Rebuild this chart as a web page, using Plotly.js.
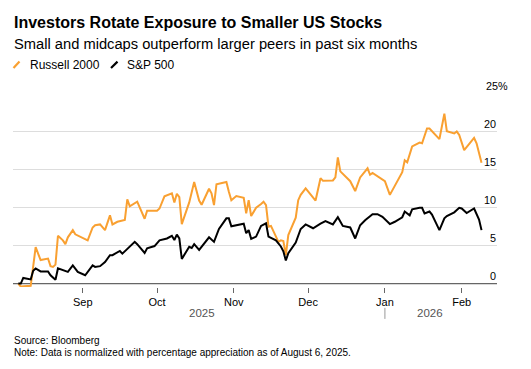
<!DOCTYPE html>
<html>
<head>
<meta charset="utf-8">
<script src="https://cdn.plot.ly/plotly-3.0.1.min.js"></script>
<style>
  html, body { margin: 0; padding: 0; background: #fff; }
  #chart { width: 531px; height: 369px; }
</style>
</head>
<body>
<div id="chart"></div>
<script>
// ---- Data (percent change since Aug 6, 2025) ----
const russellDates = ['2025-08-06','2025-08-07','2025-08-11','2025-08-13','2025-08-15','2025-08-16','2025-08-18','2025-08-19','2025-08-20','2025-08-21','2025-08-22','2025-08-24','2025-08-25','2025-08-26','2025-08-28','2025-08-29','2025-09-03','2025-09-05','2025-09-06','2025-09-08','2025-09-10','2025-09-12','2025-09-13','2025-09-15','2025-09-17','2025-09-18','2025-09-19','2025-09-20','2025-09-23','2025-09-26','2025-09-27','2025-10-01','2025-10-02','2025-10-04','2025-10-07','2025-10-08','2025-10-09','2025-10-10','2025-10-11','2025-10-14','2025-10-16','2025-10-18','2025-10-19','2025-10-22','2025-10-23','2025-10-24','2025-10-25','2025-10-29','2025-10-30','2025-10-31','2025-11-02','2025-11-05','2025-11-06','2025-11-07','2025-11-08','2025-11-10','2025-11-12','2025-11-13','2025-11-14','2025-11-15','2025-11-16','2025-11-19','2025-11-20','2025-11-21','2025-11-22','2025-11-23','2025-11-26','2025-11-27','2025-11-28','2025-11-30','2025-12-04','2025-12-06','2025-12-07','2025-12-11','2025-12-12','2025-12-13','2025-12-14','2025-12-18','2025-12-20','2025-12-22','2025-12-25','2025-12-26','2025-12-27','2025-12-30','2026-01-01','2026-01-03','2026-01-08','2026-01-09','2026-01-10','2026-01-12','2026-01-15','2026-01-16','2026-01-18','2026-01-19','2026-01-23','2026-01-25','2026-01-26','2026-01-29','2026-01-30','2026-01-31','2026-02-02','2026-02-06','2026-02-07','2026-02-09'];
const russellValues = [0,-0.4,-0.3,4.8,3.1,3.2,3.3,2.3,2.2,2.5,6.3,5.7,5.2,6.1,7.05,6.5,5.7,7.4,7.7,7.8,7.05,9.0,7.8,8.15,8.3,8.4,11.1,10.2,10.8,8.55,9.6,9.6,9.9,11.5,11.9,10.7,11.85,11.4,7.85,10.7,13.4,10.95,10.4,12.5,11.9,10.35,13.1,13.4,12.1,11.0,11.55,11.3,9.25,11.0,8.9,10.0,10.5,10.8,10.35,7.5,7.6,5.5,5.7,5.6,3.75,6.4,8.7,11.0,11.7,12.55,10.95,13.9,13.55,13.6,14.0,16.65,14.8,13.5,12.2,14.0,15.2,14.35,14.6,13.9,13.5,11.7,14.7,16.25,16.0,18.1,18.6,18.5,20.45,20.45,19.05,22.4,20.1,19.8,20.05,19.6,17.6,19.2,18.5,15.95];

const spDates = ['2025-08-06','2025-08-07','2025-08-08','2025-08-10','2025-08-11','2025-08-12','2025-08-13','2025-08-15','2025-08-18','2025-08-19','2025-08-21','2025-08-22','2025-08-26','2025-08-28','2025-08-30','2025-09-02','2025-09-05','2025-09-06','2025-09-08','2025-09-10','2025-09-12','2025-09-13','2025-09-16','2025-09-17','2025-09-20','2025-09-22','2025-09-23','2025-09-26','2025-09-27','2025-09-30','2025-10-02','2025-10-05','2025-10-07','2025-10-08','2025-10-09','2025-10-10','2025-10-11','2025-10-14','2025-10-15','2025-10-16','2025-10-18','2025-10-20','2025-10-22','2025-10-24','2025-10-26','2025-10-29','2025-10-30','2025-10-31','2025-11-04','2025-11-05','2025-11-06','2025-11-07','2025-11-08','2025-11-10','2025-11-12','2025-11-14','2025-11-15','2025-11-18','2025-11-20','2025-11-21','2025-11-22','2025-11-23','2025-11-26','2025-11-28','2025-11-30','2025-12-03','2025-12-06','2025-12-08','2025-12-11','2025-12-13','2025-12-15','2025-12-18','2025-12-20','2025-12-22','2025-12-24','2025-12-27','2025-12-29','2025-12-31','2026-01-03','2026-01-05','2026-01-08','2026-01-09','2026-01-11','2026-01-12','2026-01-15','2026-01-16','2026-01-17','2026-01-19','2026-01-20','2026-01-23','2026-01-25','2026-01-26','2026-01-29','2026-01-31','2026-02-01','2026-02-03','2026-02-06','2026-02-08','2026-02-09'];
const spValues = [0,0,0.75,0.6,0.55,1.7,2.0,1.6,1.6,1.1,0.5,2.0,1.55,2.4,1.55,1.1,2.4,2.2,2.3,2.85,3.75,3.75,4.3,3.95,4.9,5.5,5.2,4.05,4.65,4.95,5.7,5.95,6.3,5.75,6.45,5.95,3.25,4.85,4.7,5.2,4.45,5.35,6.1,5.5,7.2,8.6,8.6,7.55,7.9,7.9,6.65,7.05,5.9,6.2,7.6,7.95,6.2,5.7,4.9,4.25,3.05,4.0,5.4,7.2,7.8,7.3,7.9,8.25,7.8,8.75,7.6,7.4,5.95,7.7,8.35,9.15,9.15,8.8,7.85,8.15,8.75,9.5,9.0,9.8,10.0,10.0,9.25,9.5,9.1,7.05,8.6,8.9,9.4,10.0,9.9,9.3,9.9,8.45,7.05];

const seriesNames = ['Russell 2000', 'S&P 500'];
const monthTicks = ['2025-09-01','2025-10-01','2025-11-01','2025-12-01','2026-01-01','2026-02-01'];
const monthLabels = ['Sep','Oct','Nov','Dec','Jan','Feb'];
const yTicks = [0, 5, 10, 15, 20, 25];
const yearLabels = ['2025', '2026'];
const yearPositions = ['2025-10-19', '2026-01-19'];
const yearBreak = '2026-01-01';

// ---- Styling / geometry ----
const FONT = 'Liberation Sans, Arial, Helvetica, sans-serif';
const ORANGE = '#f9a031';
const BLACK = '#000000';
const W = 531, H = 369;
const ML = 13, MR = 34, MT = 94.3, MB = 82.3;
const PW = W - ML - MR, PH = H - MT - MB;
const px = p => (p - ML) / PW;
const py = p => (MT + PH - p) / PH;

const traces = [
  { x: russellDates, y: russellValues, name: seriesNames[0], type: 'scatter', mode: 'lines',
    line: { color: ORANGE, width: 2, shape: 'linear' }, hoverinfo: 'skip' },
  { x: spDates, y: spValues, name: seriesNames[1], type: 'scatter', mode: 'lines',
    line: { color: BLACK, width: 2, shape: 'linear' }, hoverinfo: 'skip' }
];

const annotations = [];
const shapes = [];

// Title / subtitle
annotations.push({ xref: 'paper', yref: 'paper', x: px(13), y: py(23.5), xanchor: 'left', yanchor: 'middle',
  text: '<b>Investors Rotate Exposure to Smaller US Stocks</b>', showarrow: false, borderpad: 0,
  font: { family: FONT, size: 16, color: '#000' } });
annotations.push({ xref: 'paper', yref: 'paper', x: px(13), y: py(44.5), xanchor: 'left', yanchor: 'middle',
  text: 'Small and midcaps outperform larger peers in past six months', showarrow: false, borderpad: 0,
  font: { family: FONT, size: 14.7, color: '#000' } });

// Custom legend
const legendItems = [
  { color: ORANGE, sx0: 13.5, sx1: 19.5, tx: 29.3 },
  { color: BLACK, sx0: 111, sx1: 117.5, tx: 125.5 }
];
legendItems.forEach((it, i) => {
  shapes.push({ type: 'line', xref: 'paper', yref: 'paper', x0: px(it.sx0), y0: py(68.3), x1: px(it.sx1), y1: py(62),
    line: { color: it.color, width: 2.2 } });
  annotations.push({ xref: 'paper', yref: 'paper', x: px(it.tx), y: py(65), xanchor: 'left', yanchor: 'middle',
    text: seriesNames[i], showarrow: false, borderpad: 0, font: { family: FONT, size: 12, color: '#000' } });
});

// Y tick labels (above gridlines, right-aligned; top label carries the % unit)
const LABEL_SIZE = 10.8;
yTicks.forEach((v, i) => {
  const isTop = i === yTicks.length - 1;
  annotations.push({ xref: 'paper', yref: 'y', x: 1, y: v,
    xanchor: isTop ? 'left' : 'right', xshift: isTop ? -12 : 0,
    yanchor: 'bottom', yshift: 1,
    text: isTop ? v + '%' : String(v), showarrow: false, borderpad: 0,
    font: { family: FONT, size: LABEL_SIZE, color: '#000' } });
});

// Year labels
yearLabels.forEach((t, i) => {
  annotations.push({ xref: 'x', yref: 'paper', x: yearPositions[i], y: py(312.5), xanchor: 'center', yanchor: 'middle',
    text: t, showarrow: false, borderpad: 0, font: { family: FONT, size: 11.5, color: '#555' } });
});
shapes.push({ type: 'line', xref: 'x', yref: 'paper', x0: yearBreak, x1: yearBreak, y0: py(307.5), y1: py(318.5),
  line: { color: '#999', width: 1 } });

// Baseline at 0
shapes.push({ type: 'line', xref: 'paper', yref: 'y', x0: 0, x1: 1, y0: 0, y1: 0, layer: 'below',
  line: { color: '#666', width: 1.3 } });

// Source / note
annotations.push({ xref: 'paper', yref: 'paper', x: px(13), y: py(340), xanchor: 'left', yanchor: 'middle',
  text: 'Source: Bloomberg', showarrow: false, borderpad: 0, font: { family: FONT, size: 10, color: '#000' } });
annotations.push({ xref: 'paper', yref: 'paper', x: px(13), y: py(351.7), xanchor: 'left', yanchor: 'middle',
  text: 'Note: Data is normalized with percentage appreciation as of August 6, 2025.', showarrow: false, borderpad: 0,
  font: { family: FONT, size: 10, color: '#000' } });

const layout = {
  width: W, height: H,
  margin: { l: ML, r: MR, t: MT, b: MB, pad: 0 },
  paper_bgcolor: '#fff', plot_bgcolor: '#fff',
  showlegend: false,
  font: { family: FONT, color: '#000' },
  xaxis: {
    type: 'date',
    range: ['2025-08-03 20:30', '2026-02-15 06:00'],
    tickmode: 'array', tickvals: monthTicks, ticktext: monthLabels,
    ticks: 'outside', ticklen: 5, tickwidth: 1, tickcolor: '#666',
    tickfont: { family: FONT, size: 11, color: '#000' },
    showgrid: false, showline: false, zeroline: false, fixedrange: true
  },
  yaxis: {
    range: [-0.45, 25],
    tickmode: 'array', tickvals: yTicks.filter(v => v !== 0),
    showticklabels: false, ticks: '',
    showgrid: true, gridcolor: '#dddddd', gridwidth: 1,
    zeroline: false, showline: false, fixedrange: true
  },
  annotations: annotations,
  shapes: shapes
};

Plotly.newPlot('chart', traces, layout, { staticPlot: true, displayModeBar: false });
</script>
</body>
</html>
